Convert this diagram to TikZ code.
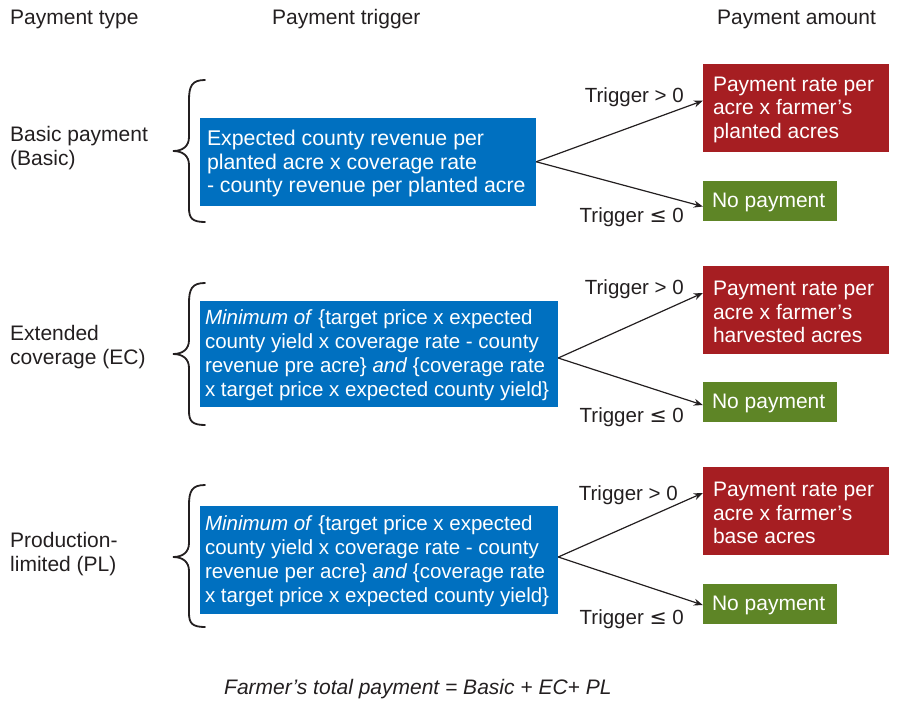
\documentclass[tikz,border=0pt]{standalone}
\usepackage{fontspec}
\setmainfont{Liberation Sans}
\newfontfamily\symfont{DejaVu Sans}
\usetikzlibrary{arrows.meta}
\definecolor{ink}{HTML}{231F20}
\definecolor{boxblue}{HTML}{0070C0}
\definecolor{boxred}{HTML}{A61E22}
\definecolor{boxgreen}{HTML}{5E8526}
\newcommand{\lessEq}{{\symfont ≤}}
\tikzset{
  every node/.style={font=\fontsize{21}{23.5}\selectfont, text=ink, inner sep=0pt},
  bluebox/.style={fill=boxblue, draw=none, rectangle},
  redbox/.style={fill=boxred, draw=none, rectangle},
  greenbox/.style={fill=boxgreen, draw=none, rectangle},
  boxtext/.style={text=white, align=left, anchor=west},
  smalltext/.style={font=\fontsize{20.5}{23.8}\selectfont},
  plain/.style={align=left, anchor=west},
  header/.style={anchor=west, font=\fontsize{21}{24}\selectfont},
  trig/.style={anchor=east, font=\fontsize{20.5}{24}\selectfont},
  arr/.style={draw=ink, line width=1.2pt, -{Stealth[length=9pt,width=7pt]}},
  bracestyle/.style={draw=ink, line width=1.8pt, line cap=round},
}
\begin{document}
\begin{tikzpicture}[x=1pt,y=-1pt]
\useasboundingbox (0,0) rectangle (901,701);

% headers
\node[header] (h1) at (10,19) {Payment type};
\node[header] (h2) at (272,19) {Payment trigger};
\node[header] (h3) at (717,19) {Payment amount};

% left labels
\node[plain] (l1) at (10,148) {Basic payment\\(Basic)};
\node[plain] (l2) at (10,347) {Extended\\coverage (EC)};
\node[plain] (l3) at (10,554) {Production-\\limited (PL)};

% braces
\draw[bracestyle] (205,80) .. controls (192,80) and (189,86) .. (189,100) -- (189,137)
  .. controls (189,146) and (183,151) .. (173,151)
  .. controls (183,151) and (189,156) .. (189,165) -- (189,208)
  .. controls (189,218) and (192,222) .. (205,222);
\draw[bracestyle] (205,283) .. controls (192,283) and (189,289) .. (189,303) -- (189,340)
  .. controls (189,349) and (183,354) .. (173,354)
  .. controls (183,354) and (189,359) .. (189,368) -- (189,411)
  .. controls (189,421) and (192,425) .. (205,425);
\draw[bracestyle] (205,485) .. controls (192,485) and (189,491) .. (189,505) -- (189,543)
  .. controls (189,552) and (183,557) .. (173,557)
  .. controls (183,557) and (189,562) .. (189,571) -- (189,613)
  .. controls (189,623) and (192,627) .. (205,627);

% trigger boxes
\node[bluebox, minimum width=336, minimum height=87.5] (t1) at (368,161.75) {};
\node[boxtext, font=\fontsize{21.3}{23.5}\selectfont] (t1x) at ([xshift=7,yshift=-2]t1.west) {Expected county revenue per\\planted acre x coverage rate\\- county revenue per planted acre};

\node[bluebox, minimum width=358, minimum height=106.5] (t2) at (379,354) {};
\node[boxtext, smalltext] (t2x) at ([xshift=5,yshift=-1]t2.west) {\textit{Minimum of} \{target price x expected\\county yield x coverage rate - county\\revenue pre acre\} \textit{and} \{coverage rate\\x target price x expected county yield\}};

\node[bluebox, minimum width=358, minimum height=108] (t3) at (379,560) {};
\node[boxtext, smalltext] (t3x) at ([xshift=5,yshift=-1]t3.west) {\textit{Minimum of} \{target price x expected\\county yield x coverage rate - county\\revenue per acre\} \textit{and} \{coverage rate\\x target price x expected county yield\}};

% payment boxes
\node[redbox, minimum width=186, minimum height=87.5] (r1) at (796,107.75) {};
\node[boxtext] (r1x) at ([xshift=10,yshift=-2]r1.west) {Payment rate per\\acre x farmer’s\\planted acres};
\node[greenbox, minimum width=134, minimum height=40] (g1) at (770,201) {};
\node[boxtext] (g1x) at ([xshift=9,yshift=-1.5]g1.west) {No payment};

\node[redbox, minimum width=186, minimum height=88] (r2) at (796,310) {};
\node[boxtext] (r2x) at ([xshift=10,yshift=-2]r2.west) {Payment rate per\\acre x farmer’s\\harvested acres};
\node[greenbox, minimum width=134, minimum height=40] (g2) at (770,402) {};
\node[boxtext] (g2x) at ([xshift=9,yshift=-1.5]g2.west) {No payment};

\node[redbox, minimum width=186, minimum height=88] (r3) at (796,511) {};
\node[boxtext] (r3x) at ([xshift=10,yshift=-2]r3.west) {Payment rate per\\acre x farmer’s\\base acres};
\node[greenbox, minimum width=134, minimum height=40] (g3) at (770,603.5) {};
\node[boxtext] (g3x) at ([xshift=9,yshift=-1.5]g3.west) {No payment};

% arrows
\draw[arr] (t1.east) -- ([yshift=7]r1.west);
\draw[arr] (t1.east) -- ([yshift=-5.5]g1.west);
\draw[arr] ([yshift=-4]t2.east) -- ([yshift=17]r2.west);
\draw[arr] ([yshift=-4]t2.east) -- ([yshift=-3]g2.west);
\draw[arr] ([yshift=3]t3.east) -- ([yshift=18]r3.west);
\draw[arr] ([yshift=3]t3.east) -- ([yshift=-1.5]g3.west);

% trigger labels
\node[trig] (a1) at (684,97) {Trigger > 0};
\node[trig] (b1) at (684,217) {Trigger \lessEq{} 0};
\node[trig] (a2) at (684,289) {Trigger > 0};
\node[trig] (b2) at (684,417) {Trigger \lessEq{} 0};
\node[trig] (a3) at (678,495) {Trigger > 0};
\node[trig] (b3) at (684,619) {Trigger \lessEq{} 0};

% bottom formula
\node[anchor=west] (f) at (224,689) {\textit{Farmer’s total payment = Basic + EC+ PL}};
\end{tikzpicture}
\end{document}
